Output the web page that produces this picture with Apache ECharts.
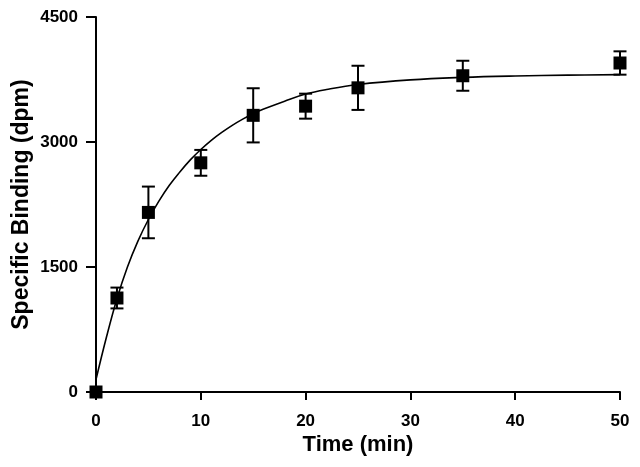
<!DOCTYPE html>
<html>
<head>
<meta charset="utf-8">
<script src="https://cdn.jsdelivr.net/npm/echarts@6/dist/echarts.min.js"></script>
<style>
html,body{margin:0;padding:0;background:#fff;}
#chart{width:640px;height:467px;}
</style>
</head>
<body>
<div id="chart"></div>
<script>
// Measured data points (time in min, specific binding in dpm)
var times = [0, 2, 5, 10, 15, 20, 25, 35, 50];
var binding = [0, 1128, 2155, 2750, 3320, 3430, 3650, 3795, 3948];
var errors = [0, 125, 310, 155, 325, 150, 265, 180, 140];

// Fitted curve
var curveTimes = [0, 1, 2, 3, 4, 5, 6, 7, 8, 9, 10, 11, 12, 13, 14, 15, 16, 18, 20, 22, 25, 30, 35, 40, 45, 50];
var curveValues = [150, 660, 1120, 1500, 1810, 2070, 2290, 2480, 2640, 2785, 2910, 3020, 3115, 3200, 3275, 3340, 3395, 3490, 3575, 3630, 3690, 3745, 3775, 3792, 3802, 3808];

var xTicks = [0, 10, 20, 30, 40, 50];
var yTicks = [0, 1500, 3000, 4500];

var pts = times.map(function (t, i) { return [t, binding[i]]; });
var errData = times.map(function (t, i) { return [t, binding[i] - errors[i], binding[i] + errors[i]]; });
var curve = curveTimes.map(function (t, i) { return [t, curveValues[i]]; });

var chart = echarts.init(document.getElementById('chart'), null, {renderer: 'canvas'});
var font = 'Liberation Sans, Arial, sans-serif';
chart.setOption({
  animation: false,
  backgroundColor: '#fff',
  grid: {left: 96, right: 20, top: 17, bottom: 75, containLabel: false, outerBoundsMode: 'none'},
  xAxis: {
    type: 'value', min: xTicks[0], max: xTicks[xTicks.length - 1], interval: 10,
    name: 'Time (min)', nameLocation: 'middle', nameGap: 42, nameMoveOverlap: false,
    nameTextStyle: {fontFamily: font, fontWeight: 'bold', fontSize: 22, color: '#000'},
    axisLine: {show: true, onZero: false, lineStyle: {color: '#000', width: 2}},
    axisTick: {show: true, length: 8, inside: false, lineStyle: {color: '#000', width: 2}},
    axisLabel: {fontFamily: font, fontWeight: 'bold', fontSize: 17, color: '#000', margin: 21,
      formatter: function (v) { return String(v); }},
    splitLine: {show: false}
  },
  yAxis: {
    type: 'value', min: yTicks[0], max: yTicks[yTicks.length - 1], interval: 1500,
    name: 'Specific Binding (dpm)', nameLocation: 'middle', nameGap: 63, nameRotate: 90, nameMoveOverlap: false,
    nameTextStyle: {fontFamily: font, fontWeight: 'bold', fontSize: 23, color: '#000'},
    axisLine: {show: true, onZero: false, lineStyle: {color: '#000', width: 2}},
    axisTick: {show: true, length: 10, inside: false, lineStyle: {color: '#000', width: 2}},
    axisLabel: {fontFamily: font, fontWeight: 'bold', fontSize: 17, color: '#000', margin: 18,
      formatter: function (v) { return String(v); }},
    splitLine: {show: false}
  },
  series: [
    {
      type: 'line', data: curve, smooth: 0.4, showSymbol: false,
      lineStyle: {color: '#000', width: 1.6}, z: 2
    },
    {
      type: 'custom', data: errData, z: 3,
      renderItem: function (params, api) {
        var x = api.value(0);
        var lo = api.coord([x, api.value(1)]);
        var hi = api.coord([x, api.value(2)]);
        var hw = 6.5;
        var st = {stroke: '#000', lineWidth: 2};
        return {
          type: 'group',
          children: [
            {type: 'line', shape: {x1: lo[0], y1: lo[1], x2: hi[0], y2: hi[1]}, style: st},
            {type: 'line', shape: {x1: lo[0] - hw, y1: lo[1], x2: lo[0] + hw, y2: lo[1]}, style: st},
            {type: 'line', shape: {x1: hi[0] - hw, y1: hi[1], x2: hi[0] + hw, y2: hi[1]}, style: st}
          ]
        };
      }
    },
    {
      type: 'scatter', data: pts, symbol: 'rect', symbolSize: 13,
      itemStyle: {color: '#000', opacity: 1}, z: 4
    }
  ]
});
</script>
</body>
</html>
